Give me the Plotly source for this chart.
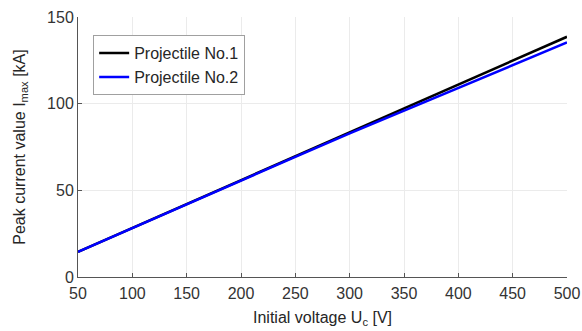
import plotly.graph_objects as go

voltage = [50, 100, 150, 200, 250, 300, 350, 400, 450, 500]
proj1 = [14.5, 28.3, 42.1, 55.9, 69.7, 83.6, 97.4, 111.2, 124.9, 138.6]
proj2 = [14.5, 28.3, 42.0, 55.7, 69.3, 82.9, 96.1, 109.1, 122.1, 135.3]
names = ["Projectile No.1", "Projectile No.2"]
x_ticks = [50, 100, 150, 200, 250, 300, 350, 400, 450, 500]
y_ticks = [0, 50, 100, 150]

FONT = "Liberation Sans, Arial, sans-serif"
fig = go.Figure()
fig.add_trace(go.Scatter(x=voltage, y=proj1, mode="lines", name=names[0],
                         line=dict(color="#000000", width=2.5)))
fig.add_trace(go.Scatter(x=voltage, y=proj2, mode="lines", name=names[1],
                         line=dict(color="#0000ff", width=2.5)))

axis_common = dict(showgrid=True, gridcolor="#ebebeb", showline=True,
                   linecolor="#555555", ticks="inside", ticklen=4,
                   tickcolor="#555555", zeroline=False, automargin=False,
                   tickfont=dict(size=16, color="#333333"))

fig.update_layout(
    width=582, height=331,
    margin=dict(l=78, r=15, t=17, b=54),
    paper_bgcolor="white", plot_bgcolor="white",
    font=dict(family=FONT, color="#333333", size=16),
    legend=dict(x=0.031, y=0.93, xanchor="left", yanchor="top",
                bgcolor="white", bordercolor="#a0a0a0", borderwidth=1,
                font=dict(size=16, color="#262626"), itemwidth=30,
                tracegroupgap=0),
    xaxis=dict(range=[50, 500], tickvals=x_ticks, ticklabelstandoff=2,
               title=dict(text="Initial voltage U<sub>c</sub> [V]", standoff=10,
                          font=dict(size=16, color="#262626")),
               **axis_common),
    yaxis=dict(range=[0, 150], tickvals=y_ticks,
               title=dict(text="Peak current value I<sub>max</sub> [kA]", standoff=17,
                          font=dict(size=16, color="#262626")),
               **axis_common),
)
fig.write_html("out.html")
